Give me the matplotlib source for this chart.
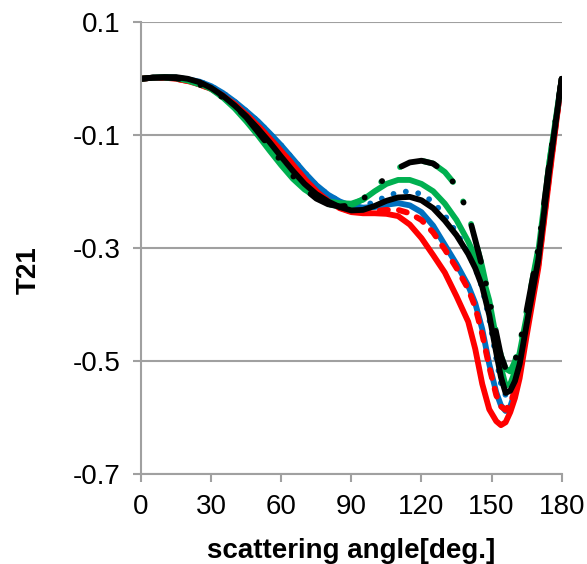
import matplotlib
matplotlib.use("Agg")
import matplotlib.pyplot as plt
import numpy as np

plt.rcParams['font.family'] = ['Liberation Sans', 'DejaVu Sans']

angle = [0, 5, 10, 15, 20, 25, 30, 35, 40, 45, 50, 55, 60, 65, 70, 75, 80, 85, 90,
         95, 100, 105, 110, 115, 120, 125, 130, 135, 140, 143, 146, 149, 152, 154,
         156, 158, 160, 162, 165, 170, 175, 180]

blue_solid = [0.000, 0.002, 0.003, 0.002, -0.001, -0.005, -0.013, -0.025, -0.040, -0.057,
              -0.075, -0.096, -0.118, -0.142, -0.166, -0.188, -0.205, -0.217, -0.225,
              -0.228, -0.227, -0.223, -0.220, -0.224, -0.236, -0.260, -0.294, -0.328,
              -0.366, -0.397, -0.443, -0.505, -0.555, -0.578, -0.588, -0.580, -0.555,
              -0.520, -0.445, -0.325, -0.155, 0.000]

blue_dotted = [0.000, 0.002, 0.003, 0.002, -0.001, -0.005, -0.013, -0.025, -0.040, -0.057,
               -0.075, -0.096, -0.118, -0.142, -0.166, -0.188, -0.205, -0.217, -0.226,
               -0.225, -0.218, -0.208, -0.201, -0.199, -0.204, -0.218, -0.242, -0.272,
               -0.308, -0.335, -0.370, -0.425, -0.495, -0.540, -0.560, -0.555, -0.535,
               -0.505, -0.435, -0.320, -0.150, 0.000]

red_solid = [0.000, 0.002, 0.002, 0.000, -0.004, -0.010, -0.018, -0.030, -0.045, -0.063,
             -0.083, -0.105, -0.128, -0.152, -0.177, -0.199, -0.216, -0.229, -0.236,
             -0.238, -0.238, -0.239, -0.243, -0.258, -0.282, -0.312, -0.343, -0.385,
             -0.430, -0.478, -0.540, -0.585, -0.606, -0.613, -0.608, -0.590, -0.565,
             -0.530, -0.455, -0.335, -0.165, 0.000]

red_dashed = [0.000, 0.002, 0.002, 0.000, -0.004, -0.010, -0.018, -0.030, -0.045, -0.063,
              -0.083, -0.105, -0.128, -0.152, -0.177, -0.199, -0.216, -0.228, -0.235,
              -0.236, -0.234, -0.232, -0.232, -0.238, -0.250, -0.272, -0.302, -0.335,
              -0.372, -0.404, -0.452, -0.510, -0.560, -0.580, -0.586, -0.575, -0.550,
              -0.515, -0.445, -0.330, -0.160, 0.000]

green_solid = [0.000, 0.002, 0.003, 0.002, -0.001, -0.008, -0.018, -0.033, -0.052, -0.075,
               -0.100, -0.127, -0.153, -0.177, -0.196, -0.209, -0.217, -0.220, -0.221,
               -0.214, -0.199, -0.186, -0.179, -0.179, -0.186, -0.199, -0.221, -0.250,
               -0.288, -0.315, -0.347, -0.392, -0.460, -0.510, -0.543, -0.540, -0.518,
               -0.485, -0.420, -0.305, -0.140, 0.000]

green_dashdot = [0.000, 0.002, 0.002, 0.001, -0.003, -0.010, -0.020, -0.033, -0.048, -0.068,
                 -0.094, -0.120, -0.146, -0.172, -0.195, -0.212, -0.222, -0.226, -0.224,
                 -0.213, -0.193, -0.174, -0.158, -0.148, -0.145, -0.150, -0.165, -0.190,
                 -0.238, -0.285, -0.333, -0.390, -0.450, -0.490, -0.513, -0.518, -0.500,
                 -0.470, -0.410, -0.300, -0.140, 0.000]

black_solid = [0.000, 0.002, 0.003, 0.003, 0.000, -0.006, -0.016, -0.030, -0.047, -0.066,
               -0.088, -0.112, -0.138, -0.163, -0.186, -0.204, -0.217, -0.227, -0.233,
               -0.232, -0.225, -0.216, -0.210, -0.209, -0.215, -0.229, -0.251, -0.277,
               -0.310, -0.335, -0.368, -0.418, -0.485, -0.528, -0.556, -0.552, -0.535,
               -0.505, -0.435, -0.320, -0.150, 0.000]

black_dashdot = [0.000, 0.002, 0.002, 0.001, -0.003, -0.010, -0.020, -0.033, -0.048, -0.068,
                 -0.094, -0.120, -0.146, -0.172, -0.195, -0.212, -0.222, -0.226, -0.224,
                 -0.213, -0.193, -0.174, -0.158, -0.148, -0.145, -0.150, -0.165, -0.190,
                 -0.238, -0.285, -0.333, -0.390, -0.450, -0.490, -0.513, -0.518, -0.500,
                 -0.470, -0.410, -0.300, -0.140, 0.000]

x_ticks = [0, 30, 60, 90, 120, 150, 180]
y_ticks = [-0.7, -0.5, -0.3, -0.1, 0.1]
y_tick_labels = ['-0.7', '-0.5', '-0.3', '-0.1', '0.1']

BLUE = '#0070C0'
RED = '#FF0000'
GREEN = '#00B050'
BLACK = '#000000'
LW = 4.2
DPI = 100
DASHDOT = (6.4, 3.8, 0.01, 4.1, 0.01, 4.2)
PERIOD = sum(DASHDOT)

fig = plt.figure(figsize=(5.87, 5.64), dpi=DPI)
ax = fig.add_axes([141 / 587, 1 - 474.3 / 564, (561.7 - 141) / 587, (474.3 - 22.3) / 564])
ax.set_xlim(0, 180)
ax.set_ylim(-0.7, 0.1)


def dash_offset(xs, ys, at_angle, back=0.0):
    """Offset (in line-width units) so that a dash starts at `at_angle`."""
    pts = ax.transData.transform(np.column_stack([xs, ys]))
    seg = np.hypot(*np.diff(pts, axis=0).T)
    cum = np.concatenate([[0], np.cumsum(seg)])
    L = np.interp(at_angle, xs, cum) * 72.0 / DPI / LW - back
    return (-L) % PERIOD


ax.plot(angle, blue_solid, color=BLUE, lw=LW, solid_capstyle='round')
ax.plot(angle, blue_dotted, color=BLUE, lw=LW, linestyle=(0, (0.01, 2.15)),
        dash_capstyle='round')
ax.plot(angle, red_solid, color=RED, lw=LW, solid_capstyle='round')
ax.plot(angle, red_dashed, color=RED, lw=LW, linestyle=(0, (1.4, 1.9)),
        dash_capstyle='round')
ax.plot(angle, green_solid, color=GREEN, lw=LW, solid_capstyle='round')
ax.plot(angle, green_dashdot, color=GREEN, lw=LW,
        linestyle=(dash_offset(angle, green_dashdot, 133.5, back=DASHDOT[0]), DASHDOT),
        dash_capstyle='round')
ax.plot(angle, black_solid, color=BLACK, lw=LW, solid_capstyle='round')
ax.plot(angle, black_dashdot, color=BLACK, lw=LW,
        linestyle=(dash_offset(angle, black_dashdot, 111.5), DASHDOT),
        dash_capstyle='round')

ax.set_xticks(x_ticks)
ax.set_yticks(y_ticks)
ax.set_yticklabels(y_tick_labels)
ax.yaxis.grid(True, color='#a0a0a0', lw=1.5)
ax.set_axisbelow(True)
for s in ['top', 'right']:
    ax.spines[s].set_visible(False)
for s in ['left', 'bottom']:
    ax.spines[s].set_color('#a0a0a0')
    ax.spines[s].set_linewidth(1.5)
ax.tick_params(axis='both', colors='#a0a0a0', width=1.5, length=6, labelsize=20,
               labelcolor='black')
ax.tick_params(axis='x', pad=8)
ax.tick_params(axis='y', pad=9)

ax.text(-0.268, 0.452, 'T21', rotation=90, ha='center', va='center',
        transform=ax.transAxes, fontsize=20, fontweight='bold')
fig.text(351.5 / 587, 6.3 / 564, 'scattering angle[deg.]', ha='center', va='baseline',
         fontsize=20, fontweight='bold')

fig.savefig('out.png', dpi=DPI)
